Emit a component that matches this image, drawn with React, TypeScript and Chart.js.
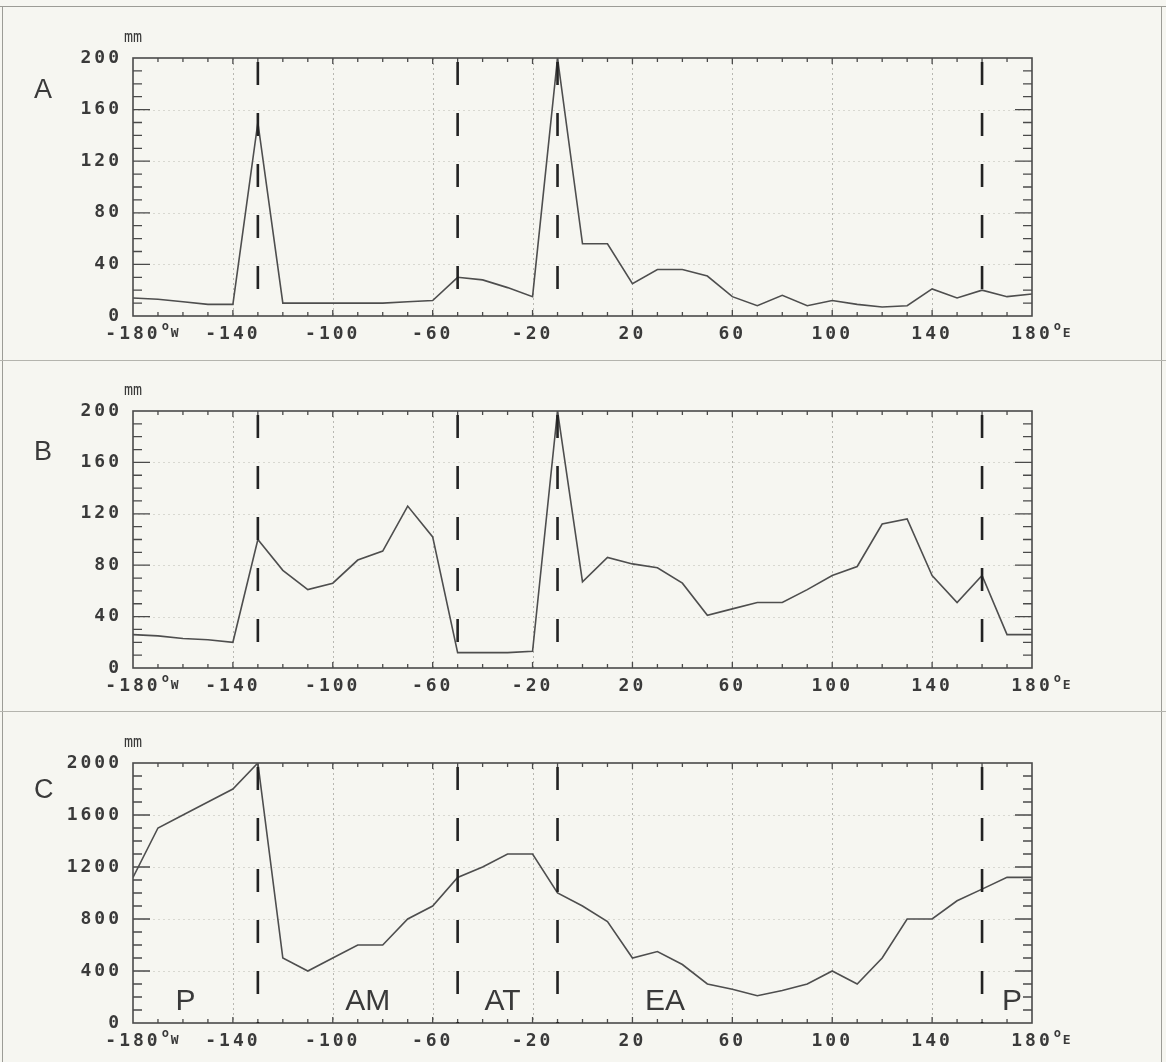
import React, { useEffect, useRef } from 'react';
import { Chart, registerables } from 'chart.js';

Chart.register(...registerables);

// ---------- data ----------
const longitudes = [
  -180, -170, -160, -150, -140, -130, -120, -110, -100, -90, -80, -70, -60, -50, -40, -30, -20, -10,
  0, 10, 20, 30, 40, 50, 60, 70, 80, 90, 100, 110, 120, 130, 140, 150, 160, 170, 180,
];
const precipA = [
  14, 13, 11, 9, 9, 150, 10, 10, 10, 10, 10, 11, 12, 30, 28, 22, 15, 200,
  56, 56, 25, 36, 36, 31, 15, 8, 16, 8, 12, 9, 7, 8, 21, 14, 20, 15, 17,
];
const precipB = [
  26, 25, 23, 22, 20, 100, 76, 61, 66, 84, 91, 126, 102, 12, 12, 12, 13, 200,
  67, 86, 81, 78, 66, 41, 46, 51, 51, 61, 72, 79, 112, 116, 72, 51, 72, 26, 26,
];
const precipC = [
  1120, 1500, 1600, 1700, 1800, 2000, 500, 400, 500, 600, 600, 800, 900, 1120, 1200, 1300, 1300, 1000,
  900, 780, 500, 550, 450, 300, 260, 210, 250, 300, 400, 300, 500, 800, 800, 940, 1030, 1120, 1120,
];
const dividerLongitudes = [-130, -50, -10, 160];
const regionNames = ['P', 'AM', 'AT', 'EA', 'P'];
const regionCenters = [-159, -86, -32, 33, 172];
const regionLabelLevel = 100;
const panelLetters = ['A', 'B', 'C'];
const panelSeries = [precipA, precipB, precipC];
const panelMax = [200, 200, 2000];
const panelMajorStep = [40, 40, 400];
const panelMinorStep = [10, 10, 100];
const xMin = -180;
const xMax = 180;
const xMajorStep = 40;
const xMinorStep = 10;
const unitLabel = 'mm';
const westSuffix = 'W';
const eastSuffix = 'E';

// ---------- layout / style ----------
const PAGE_W = 1166;
const PAGE_H = 1062;
const PLOT_LEFT = 133;
const PLOT_RIGHT = 1032;
const X_AXIS_H = 30;
const layouts = [
  { top: 10, height: 348, plotTop: 58, plotBottom: 316, letterDy: 40 },
  { top: 362, height: 347, plotTop: 411, plotBottom: 668, letterDy: 49 },
  { top: 713, height: 349, plotTop: 763, plotBottom: 1023, letterDy: 35 },
];
const MONO = '"DejaVu Sans Mono", monospace';
const SANS = '"Liberation Sans", Arial, sans-serif';
const INK = '#3a3a3a';
const TICK_FONT_SIZE = 18;

function Panel({ idx }: { idx: number }) {
  const ref = useRef<HTMLCanvasElement | null>(null);
  const lay = layouts[idx];

  useEffect(() => {
    if (!ref.current) return;
    const padTop = lay.plotTop - lay.top;
    const padBottom = lay.height - (lay.plotBottom - lay.top) - X_AXIS_H;
    const yMax = panelMax[idx];
    const yMajor = panelMajorStep[idx];
    const yMinor = panelMinorStep[idx];

    const decor = {
      id: 'decor',
      beforeDraw(chart: any) {
        chart.ctx.letterSpacing = '3px';
      },
      beforeDatasetsDraw(chart: any) {
        const { ctx, chartArea: a } = chart;
        const x = chart.scales.x;
        const y = chart.scales.y;
        ctx.save();
        ctx.letterSpacing = '0px';
        // faint dotted grid
        ctx.lineWidth = 1;
        ctx.setLineDash([2, 3]);
        ctx.strokeStyle = '#b8b8b2';
        x.ticks.forEach((t: any) => {
          if (t.value > x.min && t.value < x.max) {
            const px = Math.round(x.getPixelForValue(t.value)) + 0.5;
            ctx.beginPath();
            ctx.moveTo(px, a.top);
            ctx.lineTo(px, a.bottom);
            ctx.stroke();
          }
        });
        ctx.strokeStyle = '#d8d8d1';
        y.ticks.forEach((t: any) => {
          if (t.value > y.min && t.value < y.max) {
            const py = Math.round(y.getPixelForValue(t.value)) + 0.5;
            ctx.beginPath();
            ctx.moveTo(a.left, py);
            ctx.lineTo(a.right, py);
            ctx.stroke();
          }
        });
        ctx.setLineDash([]);
        // inward tick marks
        ctx.strokeStyle = '#4a4a4a';
        ctx.lineWidth = 1.3;
        for (let v = xMin + xMinorStep; v < xMax; v += xMinorStep) {
          const major = (v - xMin) % xMajorStep === 0;
          const len = major ? 6 : 4;
          const px = x.getPixelForValue(v);
          ctx.beginPath();
          ctx.moveTo(px, a.bottom);
          ctx.lineTo(px, a.bottom - len);
          ctx.moveTo(px, a.top);
          ctx.lineTo(px, a.top + len);
          ctx.stroke();
        }
        for (let v = yMinor; v < yMax; v += yMinor) {
          const major = v % yMajor === 0;
          const len = major ? 17 : 9;
          const py = y.getPixelForValue(v);
          ctx.beginPath();
          ctx.moveTo(a.left, py);
          ctx.lineTo(a.left + len, py);
          ctx.moveTo(a.right, py);
          ctx.lineTo(a.right - len, py);
          ctx.stroke();
        }
        // frame
        ctx.lineWidth = 1.6;
        ctx.strokeRect(a.left, a.top, a.right - a.left, a.bottom - a.top);
        ctx.restore();
      },
      afterDraw(chart: any) {
        const { ctx, chartArea: a } = chart;
        const x = chart.scales.x;
        const y = chart.scales.y;
        ctx.save();
        ctx.fillStyle = INK;
        // degree suffixes on end labels
        const labelTop = a.bottom + 8;
        ctx.font = `bold ${TICK_FONT_SIZE}px ${MONO}`;
        ctx.letterSpacing = '3px';
        const ends: [number, string][] = [[xMin, westSuffix], [xMax, eastSuffix]];
        ends.forEach(([v, suf]) => {
          const px = x.getPixelForValue(v);
          const w = ctx.measureText(String(v)).width;
          const sx = px + w / 2 + 1;
          ctx.save();
          ctx.letterSpacing = '0px';
          ctx.textAlign = 'left';
          ctx.textBaseline = 'alphabetic';
          ctx.font = `bold 12px ${MONO}`;
          ctx.fillText('o', sx, labelTop + 6);
          ctx.font = `bold 13px ${MONO}`;
          ctx.fillText(suf, sx + 9, labelTop + 13);
          ctx.restore();
        });
        ctx.letterSpacing = '0px';
        // unit label
        ctx.font = `15px ${MONO}`;
        ctx.textAlign = 'center';
        ctx.textBaseline = 'alphabetic';
        ctx.fillText(unitLabel, a.left, a.top - 16);
        // panel letter
        ctx.font = `27px ${SANS}`;
        ctx.textAlign = 'left';
        ctx.fillText(panelLetters[idx], 34, a.top + lay.letterDy);
        // region names (bottom panel)
        if (idx === 2) {
          ctx.font = `30px ${SANS}`;
          ctx.textAlign = 'center';
          regionNames.forEach((name, i) => {
            ctx.fillText(name, x.getPixelForValue(regionCenters[i]), y.getPixelForValue(regionLabelLevel));
          });
        }
        ctx.restore();
      },
    };

    const dividerSets = dividerLongitudes.map((d) => ({
      data: [{ x: d, y: yMax }, { x: d, y: 0 }],
      borderColor: '#222',
      borderWidth: 2.6,
      borderDash: [23, 28],
      borderDashOffset: 47,
      pointRadius: 0,
      tension: 0,
      fill: false,
    }));

    const chart = new Chart(ref.current, {
      type: 'line',
      data: {
        datasets: [
          ...dividerSets,
          {
            data: longitudes.map((lon, i) => ({ x: lon, y: panelSeries[idx][i] })),
            borderColor: '#4e4e4e',
            borderWidth: 1.6,
            pointRadius: 0,
            tension: 0,
            fill: false,
          },
        ],
      } as any,
      options: {
        responsive: false,
        animation: false,
        devicePixelRatio: 1,
        layout: { padding: { left: 0, right: PAGE_W - PLOT_RIGHT, top: padTop, bottom: padBottom } },
        plugins: { legend: { display: false }, tooltip: { enabled: false } },
        scales: {
          x: {
            type: 'linear',
            min: xMin,
            max: xMax,
            grid: { display: false, drawTicks: false },
            border: { display: false },
            afterFit: (s: any) => { s.height = X_AXIS_H; },
            ticks: {
              stepSize: xMajorStep,
              padding: 8,
              color: INK,
              maxRotation: 0,
              autoSkip: false,
              font: { family: MONO, size: TICK_FONT_SIZE, weight: 'bold' },
              callback: (v: any) => String(v),
            },
          },
          y: {
            type: 'linear',
            min: 0,
            max: yMax,
            grid: { display: false, drawTicks: false },
            border: { display: false },
            afterFit: (s: any) => { s.width = PLOT_LEFT; },
            ticks: {
              stepSize: yMajor,
              padding: 11,
              color: INK,
              autoSkip: false,
              font: { family: MONO, size: TICK_FONT_SIZE, weight: 'bold' },
              callback: (v: any) => String(v),
            },
          },
        },
      } as any,
      plugins: [decor],
    });
    return () => chart.destroy();
  }, [idx]);

  return (
    <canvas
      ref={ref}
      width={PAGE_W}
      height={lay.height}
      style={{ position: 'absolute', left: 0, top: lay.top, width: PAGE_W, height: lay.height }}
    />
  );
}

export default function App() {
  const line = (style: React.CSSProperties) => (
    <div style={{ position: 'absolute', background: '#9c9c96', ...style }} />
  );
  return (
    <div
      style={{
        position: 'absolute',
        left: 0,
        top: 0,
        width: PAGE_W,
        height: PAGE_H,
        background: '#f6f6f1',
        overflow: 'hidden',
      }}
    >
      {line({ left: 0, top: 6, width: PAGE_W, height: 1 })}
      {line({ left: 2, top: 6, width: 1, height: PAGE_H })}
      {line({ left: 1161, top: 6, width: 1, height: PAGE_H })}
      {line({ left: 0, top: 360, width: PAGE_W, height: 1, background: '#b4b4ae' })}
      {line({ left: 0, top: 711, width: PAGE_W, height: 1, background: '#b4b4ae' })}
      <Panel idx={0} />
      <Panel idx={1} />
      <Panel idx={2} />
    </div>
  );
}
